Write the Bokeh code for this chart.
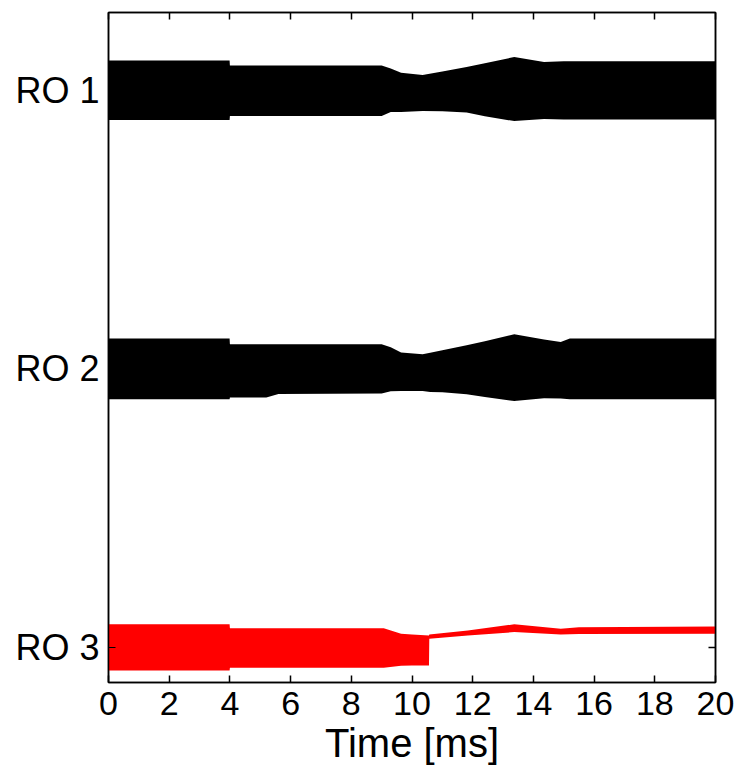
from bokeh.plotting import figure
from bokeh.models import Range1d, LinearAxis, FixedTicker
from bokeh.embed import file_html
from bokeh.resources import INLINE

# ---- data ----
channels = ["RO 1", "RO 2", "RO 3"]
channel_pos = [3, 2, 1]
x_ticks = [0, 2, 4, 6, 8, 10, 12, 14, 16, 18, 20]

# envelope of each read-out signal: time [ms], upper / lower amplitude (row units)
t1 = [0, 3.99, 4.0, 9.0, 9.3, 9.64, 10.35, 11.0, 11.8, 12.4, 13.37, 14.35, 15.0, 20]
u1 = [0.108, 0.108, 0.090, 0.090, 0.079, 0.064, 0.056, 0.068, 0.084, 0.098, 0.120, 0.102, 0.105, 0.105]
l1 = [-0.106, -0.106, -0.092, -0.092, -0.077, -0.077, -0.074, -0.075, -0.079, -0.093, -0.110, -0.102, -0.104, -0.104]

t2 = [0, 3.99, 4.0, 5.2, 5.6, 9.0, 9.3, 9.64, 10.35, 10.6, 11.0, 11.8, 12.4, 13.37, 14.35, 14.9, 15.2, 20]
u2 = [0.109, 0.109, 0.089, 0.089, 0.089, 0.089, 0.078, 0.059, 0.053, 0.058, 0.067, 0.085, 0.099, 0.125, 0.106, 0.097, 0.109, 0.109]
l2 = [-0.109, -0.109, -0.103, -0.103, -0.090, -0.088, -0.080, -0.079, -0.079, -0.083, -0.084, -0.091, -0.101, -0.115, -0.105, -0.106, -0.109, -0.109]

t3 = [0, 3.99, 4.0, 9.07, 9.64, 10.0, 10.56, 10.57, 11.84, 13.37, 14.9, 15.5, 20]
u3 = [0.083, 0.083, 0.069, 0.069, 0.049, 0.046, 0.043, 0.046, 0.061, 0.083, 0.067, 0.072, 0.075]
l3 = [-0.083, -0.083, -0.073, -0.073, -0.066, -0.065, -0.065, 0.031, 0.043, 0.055, 0.046, 0.048, 0.049]

series = [(t1, u1, l1, "black"), (t2, u2, l2, "black"), (t3, u3, l3, "red")]

FONT = "Liberation Sans"

p = figure(width=738, height=768, output_backend="svg", toolbar_location=None,
           x_range=Range1d(0, 20), y_range=Range1d(0.874, 3.28),
           min_border_left=108, min_border_top=12, min_border_right=23, min_border_bottom=86)
p.xgrid.visible = False
p.ygrid.visible = False
p.outline_line_color = "black"
p.outline_line_width = 1.5
p.background_fill_color = "white"
p.border_fill_color = "white"

for (t, u, l, c), base in zip(series, channel_pos):
    p.varea(x=t, y1=[base + v for v in l], y2=[base + v for v in u], fill_color=c)

# bottom axis
xa = p.xaxis[0]
xa.ticker = FixedTicker(ticks=x_ticks)
xa.axis_label = "Time [ms]"
xa.axis_label_text_font = FONT
xa.axis_label_text_font_style = "normal"
xa.axis_label_text_font_size = "40px"
xa.axis_label_text_color = "black"
xa.axis_label_standoff = 3
xa.major_label_text_font = FONT
xa.major_label_text_font_size = "34px"
xa.major_label_text_color = "black"
xa.major_label_standoff = 9
xa.major_tick_in = 7
xa.major_tick_out = 0
xa.minor_tick_in = 0
xa.minor_tick_out = 0
xa.major_tick_line_width = 1.5
xa.axis_line_width = 1.5

# left axis
ya = p.yaxis[0]
ya.ticker = FixedTicker(ticks=channel_pos)
ya.major_label_overrides = {pos: name for pos, name in zip(channel_pos, channels)}
ya.major_label_text_font = FONT
ya.major_label_text_font_size = "36px"
ya.major_label_text_color = "black"
ya.major_label_standoff = 9
ya.major_tick_in = 7
ya.major_tick_out = 0
ya.minor_tick_in = 0
ya.minor_tick_out = 0
ya.axis_line_width = 1.5

# mirrored ticks (top / right), no labels
top = LinearAxis(ticker=FixedTicker(ticks=x_ticks),
                 major_label_overrides={t: "" for t in x_ticks},
                 major_label_text_font_size="1px",
                 major_label_standoff=0, major_tick_in=7, major_tick_out=0,
                 minor_tick_in=0, minor_tick_out=0, major_tick_line_width=1.5,
                 axis_line_width=1.5)
p.add_layout(top, "above")
right = LinearAxis(ticker=FixedTicker(ticks=channel_pos),
                   major_label_overrides={t: "" for t in channel_pos},
                   major_label_text_font_size="1px",
                   major_label_standoff=0, major_tick_in=7, major_tick_out=0,
                   minor_tick_in=0, minor_tick_out=0, major_tick_line_width=1.5,
                   axis_line_width=1.5)
p.add_layout(right, "right")

open("out.html", "w").write(file_html(p, INLINE))
